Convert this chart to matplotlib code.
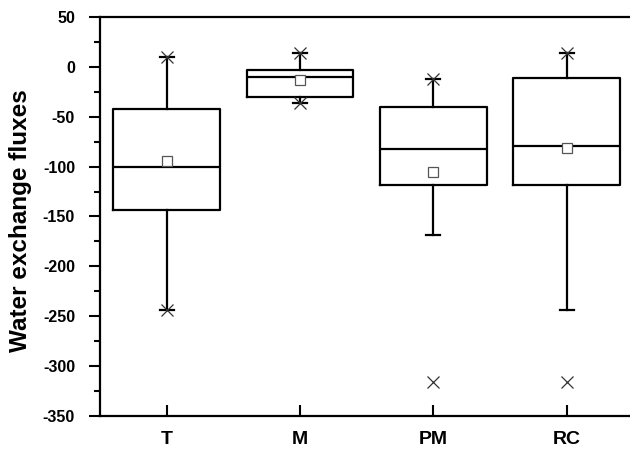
import matplotlib
matplotlib.use("Agg")
import matplotlib.pyplot as plt
from matplotlib.ticker import MultipleLocator

plt.rcParams['font.family'] = ['Liberation Sans', 'DejaVu Sans']
plt.rcParams['font.weight'] = 'bold'
plt.rcParams['axes.unicode_minus'] = False

categories = ["T", "M", "PM", "RC"]
q1 = [-143, -29.7, -118, -118]
median = [-100, -10.4, -82.7, -79.7]
q3 = [-42, -3.4, -40.4, -11]
whisker_lo = [-244, -36, -169, -244]
whisker_hi = [10, 14, -12, 14]
means = [-94, -12.7, -105, -81]
# x-markers (extremes) per category: (category index, value)
extreme_cat = [0, 0, 1, 1, 2, 2, 3, 3]
extreme_val = [10, -244, 14, -36, -12, -315.5, 14, -315.5]

fig = plt.figure(figsize=(6.3, 4.5), dpi=100)
ax = fig.add_axes([100/630, 1 - 416/450, 1 - 100/630, (416 - 17)/450])

positions = list(range(1, len(categories) + 1))
stats = []
for i, c in enumerate(categories):
    stats.append(dict(label=c, med=median[i], q1=q1[i], q3=q3[i],
                      whislo=whisker_lo[i], whishi=whisker_hi[i],
                      mean=means[i], fliers=[]))

lw = 1.6
ax.bxp(stats, positions=positions, widths=0.8, showmeans=True,
       showfliers=False, capwidths=0.105,
       boxprops=dict(color='black', linewidth=lw),
       whiskerprops=dict(color='black', linewidth=lw),
       capprops=dict(color='black', linewidth=lw),
       medianprops=dict(color='black', linewidth=lw),
       meanprops=dict(marker='s', markerfacecolor='white',
                      markeredgecolor='#555555', markersize=7,
                      markeredgewidth=0.9))

ax.plot([positions[i] for i in extreme_cat], extreme_val, linestyle='none',
        marker='x', markersize=8, markeredgewidth=0.9, color='#333333',
        zorder=5)

ax.set_xlim(0.5, 0.5 + (630 - 100) / 133.3)
ax.set_ylim(-350, 50)
ax.set_xticks(positions)
ax.set_xticklabels(categories, fontsize=14, fontweight='bold')
ax.yaxis.set_major_locator(MultipleLocator(50))
ax.yaxis.set_minor_locator(MultipleLocator(25))
ax.tick_params(axis='y', which='major', direction='out', length=8,
               width=1.5, labelsize=11.5, pad=10)
ax.tick_params(axis='y', which='minor', direction='out', length=4,
               width=1.5)
ax.tick_params(axis='x', which='major', direction='in', length=8,
               width=1.5, pad=11)
for lab in ax.get_yticklabels():
    lab.set_fontweight('bold')

ax.spines['right'].set_visible(False)
for s in ['left', 'top', 'bottom']:
    ax.spines[s].set_linewidth(1.6)

ax.set_ylabel("Water exchange fluxes", fontsize=17.5, fontweight='bold')
ax.yaxis.set_label_coords(-0.128, 0.49)

fig.savefig("out.png", dpi=100)
